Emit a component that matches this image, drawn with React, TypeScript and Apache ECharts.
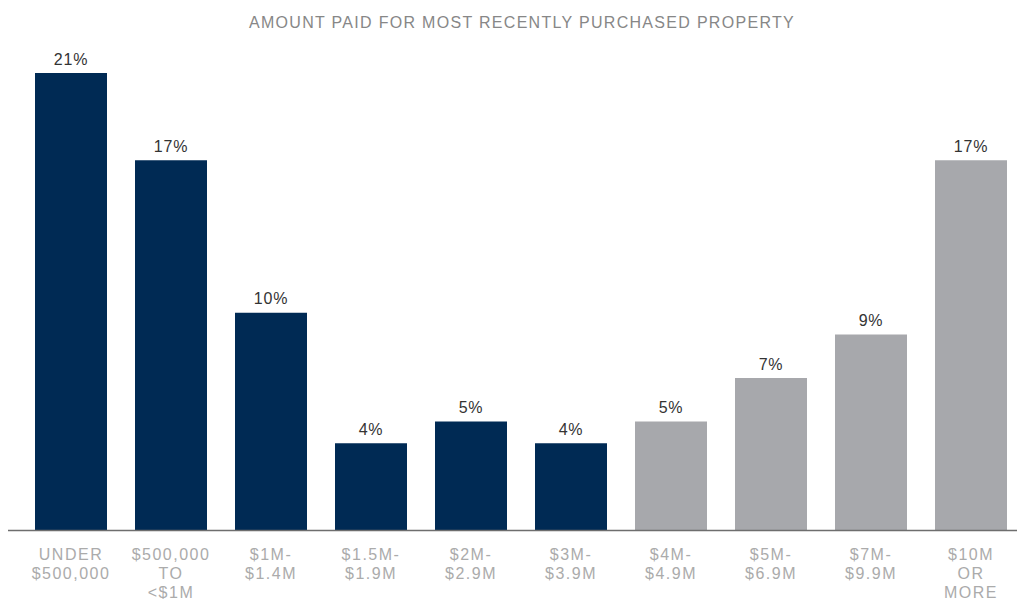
import React, { useEffect, useRef } from "react";
import * as echarts from "echarts";

const categories = [
  "UNDER\n$500,000",
  "$500,000\nTO\n<$1M",
  "$1M-\n$1.4M",
  "$1.5M-\n$1.9M",
  "$2M-\n$2.9M",
  "$3M-\n$3.9M",
  "$4M-\n$4.9M",
  "$5M-\n$6.9M",
  "$7M-\n$9.9M",
  "$10M\nOR\nMORE",
];
const values = [21, 17, 10, 4, 5, 4, 5, 7, 9, 17];
const colorGroups = ["navy", "navy", "navy", "navy", "navy", "navy", "gray", "gray", "gray", "gray"];
const titleText = "AMOUNT PAID FOR MOST RECENTLY PURCHASED PROPERTY";

const NAVY = "#002a54";
const GRAY = "#a7a8ac";
const FONT = "'Liberation Sans', Arial, sans-serif";
const TITLE_COLOR = "#878787";
const AXIS_COLOR = "#ababab";
const VALUE_COLOR = "#333333";

export default function App() {
  const ref = useRef<HTMLDivElement>(null);
  useEffect(() => {
    if (!ref.current) return;
    const chart = echarts.init(ref.current, undefined, { renderer: "svg" });
    chart.setOption({
      animation: false,
      title: {
        text: titleText,
        left: 517,
        textAlign: "center",
        top: 9,
        textStyle: { color: TITLE_COLOR, fontSize: 16, fontWeight: "normal", fontFamily: FONT },
      },
      grid: { left: 21, width: 1000, top: 73, height: 457.5, outerBoundsMode: "none", containLabel: false },
      xAxis: {
        type: "category",
        data: categories,
        axisLine: { show: false },
        axisTick: { show: false },
        axisLabel: {
          color: AXIS_COLOR,
          fontSize: 16,
          fontFamily: FONT,
          lineHeight: 19.2,
          margin: 14,
          interval: 0,
        },
      },
      yAxis: {
        type: "value",
        min: 0,
        max: 21,
        show: false,
        splitLine: { show: false },
      },
      graphic: [
        {
          type: "line",
          shape: { x1: 8, y1: 530.5, x2: 1017, y2: 530.5 },
          style: { stroke: "#6e6e6e", lineWidth: 1.5 },
          z: 10,
        },
      ],
      series: [
        {
          type: "bar",
          data: values.map((v, i) => ({
            value: v,
            itemStyle: { color: colorGroups[i] === "navy" ? NAVY : GRAY },
          })),
          barWidth: 72,
          label: {
            show: true,
            position: "top",
            distance: 6,
            formatter: "{c}%",
            color: VALUE_COLOR,
            fontSize: 16,
            fontFamily: FONT,
          },
        },
      ],
    });
    const svg = ref.current.querySelector("svg");
    if (svg) {
      svg.querySelectorAll("text").forEach((t) => {
        const fill = (t.getAttribute("fill") || t.style.fill || "").toLowerCase();
        const txt = t.textContent || "";
        let ls = "0.8px";
        if (txt === titleText) ls = "1.3px";
        else if (fill.indexOf("ab") >= 0 || fill.indexOf("171") >= 0) ls = "1.5px";
        (t as SVGTextElement).style.letterSpacing = ls;
      });
    }
    return () => chart.dispose();
  }, []);
  return <div ref={ref} style={{ width: 1022, height: 599, position: "absolute", left: 0, top: 0 }} />;
}
